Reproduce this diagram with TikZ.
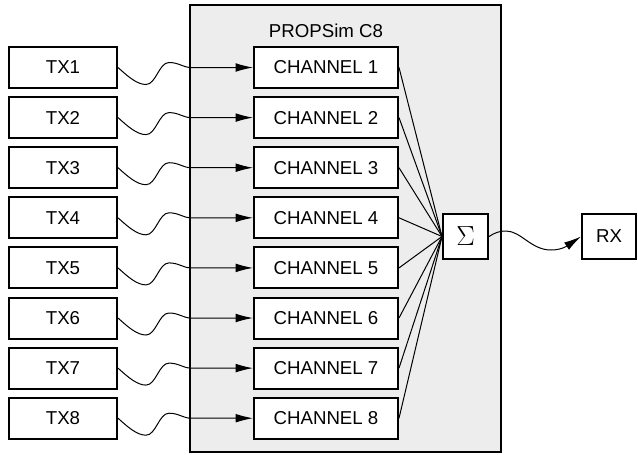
\documentclass[tikz,border=0pt]{standalone}
\usepackage{fontspec}
\setmainfont{Liberation Sans}
\usetikzlibrary{arrows.meta}
\definecolor{boxgray}{HTML}{EDEDED}
\begin{document}
\begin{tikzpicture}[x=0.75pt,y=-0.75pt,
  boxline/.style={draw=black,line width=1.5pt,fill=white,inner sep=0pt,font=\fontsize{14}{16}\selectfont},
  txbox/.style={boxline,minimum width=81pt,minimum height=30.75pt},
  chbox/.style={boxline,minimum width=108pt,minimum height=30.75pt},
  sqbox/.style={boxline,minimum width=33.75pt,minimum height=33.75pt},
  wire/.style={line width=0.75pt},
  tip/.style={-{Latex[length=13pt,width=6.5pt]}}]
\useasboundingbox (0,0) rectangle (638,454);
\node[draw=black,line width=1.5pt,fill=boxgray,minimum width=233.25pt,minimum height=335.25pt,inner sep=0pt] (sim) at (345.5,228.5) {};
\node[font=\fontsize{14}{16}\selectfont] (lbl) at (326,31) {PROPSim C8};
\foreach \i in {1,...,8}{
  \pgfmathsetmacro{\yy}{67.5+50.1*(\i-1)}
  \node[txbox] (t\i) at (63,\yy) {TX\i};
  \node[chbox] (c\i) at (326,\yy) {CHANNEL \i};
}
\node[sqbox,font=\fontsize{20}{22}\selectfont] (s) at (465.5,236.5) {$\Sigma$};
\node[sqbox,minimum width=40.5pt] (r) at (609,236.5) {RX};
\foreach \i in {1,...,8}{
  \draw[wire,tip] (t\i.east) .. controls +(10,9) and +(-9,0) .. ++(28,17)
     .. controls +(10,0) and +(-10,0) .. ++(23,-22)
     .. controls +(10,0) and +(-8,0) .. ++(22,5) -- (c\i.west);
  \draw[wire] (c\i.east) -- (s.west);
}
\draw[wire,tip] (s.east) .. controls +(6,-4) and +(-6,0) .. ++(17,-5.5)
   .. controls +(15,0) and +(-20,0) .. ++(45,19)
   .. controls +(12,0) and +(-12,8) .. (r.west);
\end{tikzpicture}
\end{document}
